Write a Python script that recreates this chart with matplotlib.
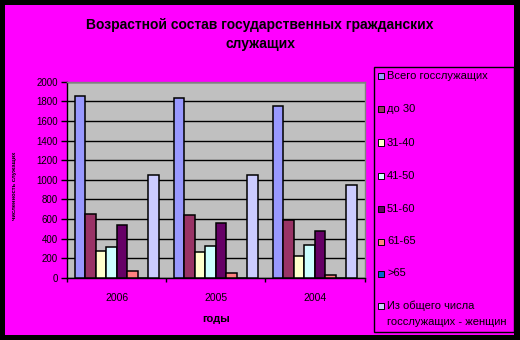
import matplotlib
matplotlib.use("Agg")
import matplotlib.pyplot as plt
from matplotlib.patches import Rectangle
import numpy as np

plt.rcParams['font.family'] = ['Liberation Sans', 'DejaVu Sans']

years = ["2006", "2005", "2004"]
series_names = ["Всего госслужащих", "до 30", "31-40", "41-50", "51-60", "61-65", ">65",
                "Из общего числа\nгосслужащих - женщин"]
total = [1850, 1830, 1748]
under30 = [649, 638, 588]
a31_40 = [272, 262, 221]
a41_50 = [313, 323, 333]
a51_60 = [537, 557, 476]
a61_65 = [68, 48, 27]
over65 = [0, 0, 0]
women = [1046, 1046, 944]
yticks = [0, 200, 400, 600, 800, 1000, 1200, 1400, 1600, 1800, 2000]

values = [total, under30, a31_40, a41_50, a51_60, a61_65, over65, women]
colors = ["#9999FF", "#993366", "#FFFFCC", "#CCFFFF", "#660066", "#FF8080", "#0066CC", "#CCCCFF"]

W, H = 520, 340
fig = plt.figure(figsize=(W / 100, H / 100), dpi=100, facecolor="black")
# magenta inner background
fig.patches.append(Rectangle((5 / W, 5 / H), (514 - 5) / W, (335 - 5) / H,
                             transform=fig.transFigure, facecolor="#FF00FF",
                             edgecolor="none", zorder=-5))

ax = fig.add_axes([67.3 / W, (H - 278) / H, (364.5 - 67.3) / W, (278 - 81.7) / H])
ax.set_zorder(2)
ax.set_facecolor("#C0C0C0")

bw = 0.106
x = np.arange(len(years))
for j, (vals, c) in enumerate(zip(values, colors)):
    ax.bar(x + (j - 3.5) * bw, vals, width=bw, color=c, edgecolor="black",
           linewidth=1.1, zorder=3)

ax.set_xlim(-0.5, len(years) - 0.5)
ax.set_ylim(0, 2000)
ax.set_yticks(yticks)
ax.set_yticklabels([str(v) for v in yticks], fontsize=7)
ax.yaxis.grid(True, color="black", linewidth=1.0, zorder=1)
ax.set_axisbelow(True)
ax.tick_params(axis="y", length=4, width=1, direction="out", pad=3)

ax.set_xticks(np.arange(-0.5, len(years), 1.0))
ax.set_xticklabels([])
ax.tick_params(axis="x", which="major", length=3, width=1, direction="out")
ax.set_xticks(x, minor=True)
ax.set_xticklabels(years, minor=True, fontsize=7.5)
ax.tick_params(axis="x", which="minor", length=0, pad=11)

for s in ["left", "bottom"]:
    ax.spines[s].set_color("black")
    ax.spines[s].set_linewidth(1)
for s in ["top", "right"]:
    ax.spines[s].set_color("#808080")
    ax.spines[s].set_linewidth(1)

ax.set_xlabel("годы", fontsize=8, fontweight="bold", labelpad=8)

# y label (tiny)
fig.text(15 / W, 1 - 186 / H, "численность служащих", rotation=90, fontsize=4.2,
         ha="center", va="center", fontweight="bold")

# title
fig.text(260 / W, 1 - 25 / H, "Возрастной состав государственных гражданских",
         fontsize=10, fontweight="bold", ha="center", va="center")
fig.text(260 / W, 1 - 44 / H, "служащих",
         fontsize=10, fontweight="bold", ha="center", va="center")

# legend (manual)
fig.patches.append(Rectangle((374 / W, 1 - 332 / H), (513.7 - 374) / W, (332 - 67.3) / H,
                             transform=fig.transFigure, facecolor="none",
                             edgecolor="black", linewidth=1, zorder=5))
ys = [76.3, 109.5, 142.5, 175.5, 208.5, 241.5, 273.5, 306]
for name, c, yy in zip(series_names, colors, ys):
    fig.patches.append(Rectangle((377.5 / W, 1 - (yy + 3) / H), 6 / W, 6 / H,
                                 transform=fig.transFigure, facecolor=c,
                                 edgecolor="black", linewidth=0.7, zorder=6))
    lines = name.split("\n")
    for k, ln in enumerate(lines):
        fig.text(387 / W, 1 - (yy + 16 * k) / H, ln, fontsize=8, ha="left", va="center")

fig.savefig("out.png", dpi=100, facecolor=fig.get_facecolor())
